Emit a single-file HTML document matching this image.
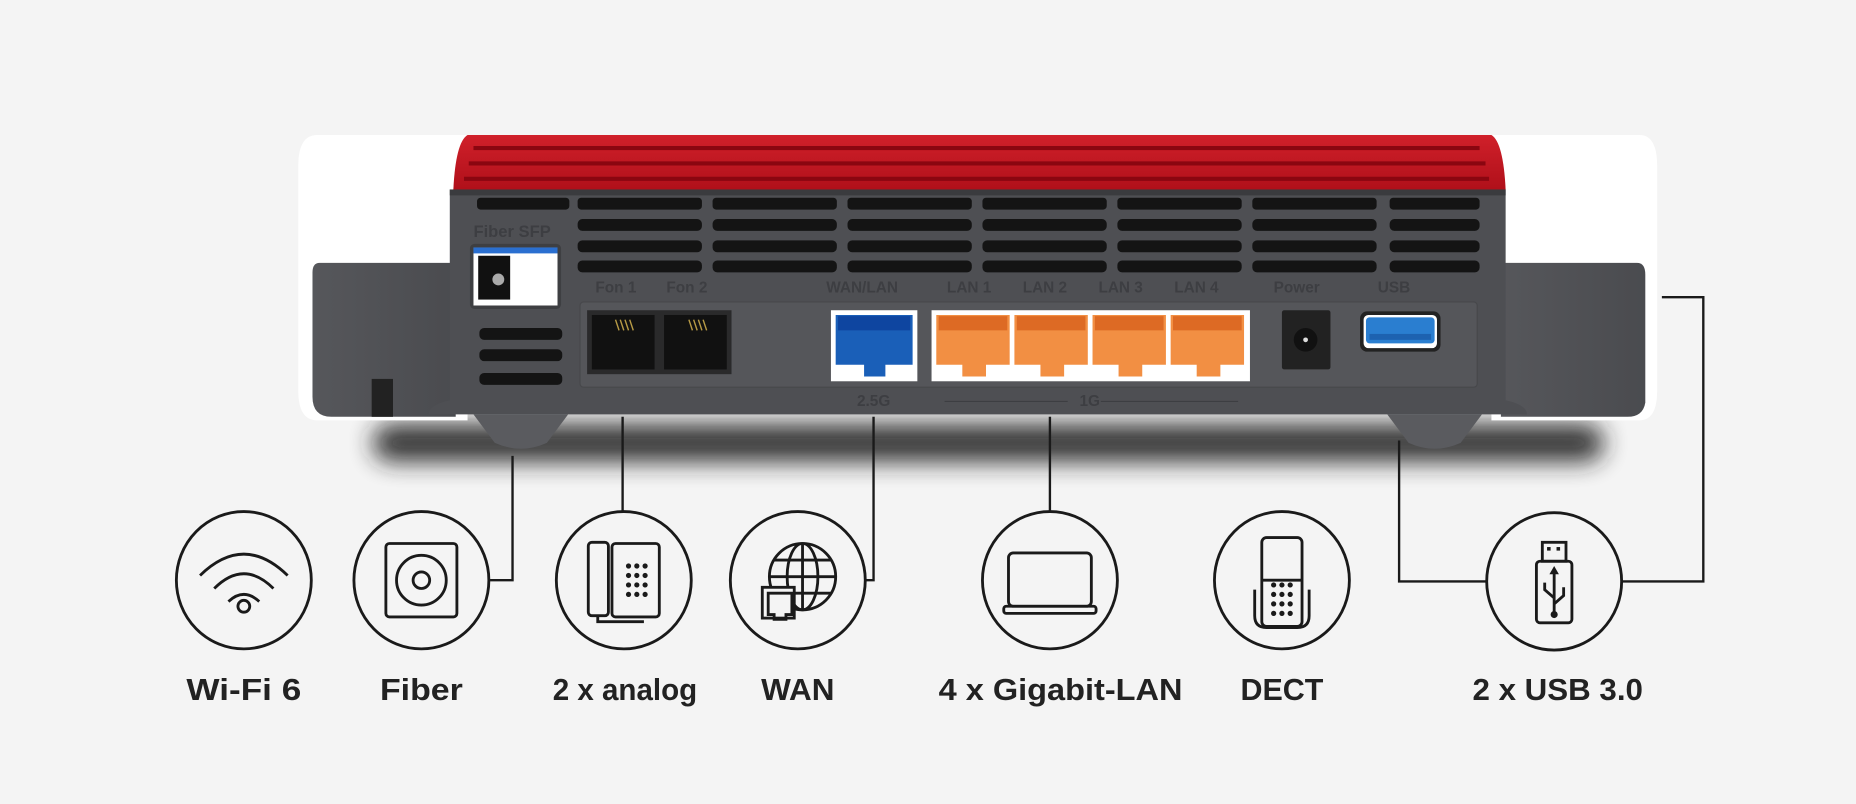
<!DOCTYPE html>
<html><head><meta charset="utf-8"><style>
html,body{margin:0;padding:0;background:#f4f4f4;width:1856px;height:804px;overflow:hidden}
svg{display:block}
text{font-family:"Liberation Sans",sans-serif;font-weight:bold}
</style></head><body>
<svg width="1856" height="804" viewBox="0 0 1568 679" preserveAspectRatio="none" xmlns="http://www.w3.org/2000/svg">
<defs>
<filter id="blur" x="-20%" y="-200%" width="140%" height="500%"><feGaussianBlur stdDeviation="10"/></filter>
<linearGradient id="red" x1="0" y1="0" x2="0" y2="1"><stop offset="0" stop-color="#d0202a"/><stop offset="1" stop-color="#b0101a"/></linearGradient>
<linearGradient id="side" x1="0" y1="0" x2="1" y2="0"><stop offset="0" stop-color="#56575b"/><stop offset="1" stop-color="#4a4b4f"/></linearGradient>
</defs>
<rect width="1568" height="679" fill="#f4f4f4"/>
<rect x="315" y="358" width="1040" height="32" rx="16" fill="#222" filter="url(#blur)" opacity="0.9"/>
<path d="M268 114 H395 V355 H268 Q252 355 252 330 V140 Q252 114 268 114Z" fill="#fff"/>
<path d="M1260 114 H1385 Q1400 114 1400 140 V330 Q1400 355 1385 355 H1260Z" fill="#fff"/>
<path d="M270 222 H385 V352 H280 Q264 352 264 335 V230 Q264 222 270 222Z" fill="url(#side)"/>
<path d="M1268 222 H1383 Q1390 222 1390 232 V340 Q1388 352 1375 352 H1268Z" fill="url(#side)"/>
<rect x="314" y="320" width="18" height="32" fill="#222"/>
<path d="M395 114 H1260 Q1270 120 1272 160 H383 Q385 120 395 114Z" fill="url(#red)"/>
<g stroke="#8a0610" stroke-width="3.5">
<line x1="400" y1="125" x2="1250" y2="125"/><line x1="396" y1="138" x2="1255" y2="138"/><line x1="392" y1="151" x2="1258" y2="151"/>
</g>
<path d="M380 160 H1272 V338 Q1290 342 1290 350 H362 Q362 342 380 338Z" fill="#4e4f53"/>
<rect x="380" y="160" width="892" height="5" fill="#3a3b3e"/>
<g fill="#141414">
<rect x="403" y="167" width="78" height="10" rx="3"/>
<rect x="405" y="277" width="70" height="10" rx="4"/><rect x="405" y="295" width="70" height="10" rx="4"/><rect x="405" y="315" width="70" height="10" rx="4"/>
</g>
<g fill="#141414" id="vc">
<rect x="488" y="167" width="105" height="10" rx="3"/><rect x="488" y="185" width="105" height="10" rx="4"/><rect x="488" y="203" width="105" height="10" rx="4"/><rect x="488" y="220" width="105" height="10" rx="4"/>
</g>
<use href="#vc" x="114"/><use href="#vc" x="228"/><use href="#vc" x="342"/><use href="#vc" x="456"/><use href="#vc" x="570"/>
<g fill="#141414"><rect x="1174" y="167" width="76" height="10" rx="3"/><rect x="1174" y="185" width="76" height="10" rx="4"/><rect x="1174" y="203" width="76" height="10" rx="4"/><rect x="1174" y="220" width="76" height="10" rx="4"/></g>
<g fill="#3d3e42" font-size="13" font-family="Liberation Sans,sans-serif">
<text x="400" y="200" font-size="14">Fiber SFP</text>
<text x="503" y="247">Fon 1</text><text x="563" y="247">Fon 2</text>
<text x="698" y="247">WAN/LAN</text><text x="800" y="247">LAN 1</text><text x="864" y="247">LAN 2</text><text x="928" y="247">LAN 3</text><text x="992" y="247">LAN 4</text>
<text x="1076" y="247">Power</text><text x="1164" y="247">USB</text>
<text x="724" y="343">2.5G</text><text x="912" y="343">1G</text>
</g>
<line x1="798" y1="339" x2="902" y2="339" stroke="#3d3e42" /><line x1="930" y1="339" x2="1046" y2="339" stroke="#3d3e42"/>
<rect x="397" y="206" width="77" height="55" rx="4" fill="#3e3f42"/>
<rect x="400" y="209" width="71" height="49" fill="#fff"/>
<rect x="400" y="209" width="71" height="5" fill="#2a6fd0"/>
<rect x="404" y="216" width="27" height="37" fill="#111"/>
<circle cx="421" cy="236" r="5" fill="#aaa"/>
<rect x="490" y="255" width="758" height="72" rx="3" fill="#55565a" stroke="#47484b"/>
<rect x="496" y="262" width="122" height="54" fill="#2a2a2b"/>
<rect x="500" y="266" width="53" height="46" fill="#111"/><rect x="561" y="266" width="53" height="46" fill="#111"/>
<g stroke="#b79a45" stroke-width="1.2"><path d="M520 270l3 9M524 270l3 9M528 270l3 9M532 270l3 9M582 270l3 9M586 270l3 9M590 270l3 9M594 270l3 9"/></g>
<rect x="702" y="262" width="73" height="60" fill="#fff"/>
<path d="M706 266 H771 V308 H748 V318 H730 V308 H706Z" fill="#1a5fb8"/>
<rect x="708" y="267" width="61" height="12" fill="#0e45a0"/>
<rect x="787" y="262" width="269" height="60" fill="#fff"/>
<g id="lp"><path d="M791 266 H853 V308 H833 V318 H813 V308 H791Z" fill="#f28f43"/><rect x="793" y="267" width="58" height="12" fill="#dd6a24"/></g>
<use href="#lp" x="66"/><use href="#lp" x="132"/><use href="#lp" x="198"/>
<rect x="1083" y="262" width="41" height="50" rx="2" fill="#222"/>
<circle cx="1103" cy="287" r="10" fill="#111"/><circle cx="1103" cy="287" r="2" fill="#ddd"/>
<rect x="1149" y="263" width="68" height="34" rx="6" fill="#222"/>
<rect x="1152" y="266" width="62" height="28" rx="4" fill="#fff"/>
<rect x="1154" y="268" width="58" height="22" rx="3" fill="#2a7ed0"/>
<rect x="1157" y="282" width="52" height="5" fill="#1d62b0"/>
<path d="M400 350 H480 L462 374 Q440 384 418 374Z" fill="#5a5b5f"/>
<path d="M1172 350 H1252 L1234 374 Q1212 384 1190 374Z" fill="#5a5b5f"/>
<g fill="none" stroke="#1a1a1a" stroke-width="2">
<path d="M433 385 V490 H414"/>
<path d="M526 352 V433"/>
<path d="M738 352 V490 H732"/>
<path d="M887 352 V433"/>
<path d="M1182 372 V491 H1256"/>
<path d="M1404 251 H1439 V491 H1371"/>
</g>
<g fill="none" stroke="#1a1a1a" stroke-width="2.4">
<ellipse cx="206" cy="490" rx="57" ry="58"/>
<ellipse cx="356" cy="490" rx="57" ry="58"/>
<ellipse cx="527" cy="490" rx="57" ry="58"/>
<ellipse cx="674" cy="490" rx="57" ry="58"/>
<ellipse cx="887" cy="490" rx="57" ry="58"/>
<ellipse cx="1083" cy="490" rx="57" ry="58"/>
<ellipse cx="1313" cy="491" rx="57" ry="58"/>
<path d="M169 486 Q206 450 243 486"/><path d="M181 497 Q206 472 231 497"/><path d="M193 508 Q206 496 219 508"/>
<circle cx="206" cy="512" r="5"/>
<rect x="326" y="459" width="60" height="62" rx="3"/><circle cx="356" cy="490" r="21"/><circle cx="356" cy="490" r="7"/>
<rect x="497" y="458" width="17" height="62" rx="3"/><rect x="517" y="459" width="40" height="62" rx="3"/>
<path d="M505 520 V525 H544"/>
<circle cx="678" cy="487" r="28"/><ellipse cx="678" cy="487" rx="13" ry="28"/><path d="M678 459 V515 M650 487 H706 M654 473 H702 M654 501 H702"/>
<rect x="644" y="496" width="27" height="26" fill="#f4f4f4"/>
<path d="M649 501 H669 V519 H664 V523 H654 V519 H649Z" fill="none"/>
<rect x="852" y="467" width="70" height="45" rx="4"/><rect x="848" y="512" width="78" height="6" rx="2"/>
<rect x="1066" y="454" width="34" height="75" rx="4"/><path d="M1066 490 H1100"/>
<path d="M1060 498 V520 Q1060 530 1070 530 H1096 Q1106 530 1106 520 V498"/>
<rect x="1303" y="458" width="20" height="16"/><rect x="1298" y="474" width="30" height="52" rx="3"/>
<path d="M1313 481 V518 M1313 505 L1305 498 V492 M1313 510 L1321 503 V496"/>
</g>
<g fill="#1a1a1a">
<g id="dots"><circle cx="531" cy="478" r="2.2"/><circle cx="538" cy="478" r="2.2"/><circle cx="545" cy="478" r="2.2"/>
<circle cx="531" cy="486" r="2.2"/><circle cx="538" cy="486" r="2.2"/><circle cx="545" cy="486" r="2.2"/>
<circle cx="531" cy="494" r="2.2"/><circle cx="538" cy="494" r="2.2"/><circle cx="545" cy="494" r="2.2"/>
<circle cx="531" cy="502" r="2.2"/><circle cx="538" cy="502" r="2.2"/><circle cx="545" cy="502" r="2.2"/></g>
<use href="#dots" x="545" y="16"/>
<rect x="1307" y="462" width="3" height="3"/><rect x="1315" y="462" width="3" height="3"/>
<circle cx="1313" cy="519" r="3"/><path d="M1313 478 l-4 7 h8z"/>
</g>
<g font-size="26" fill="#222" text-anchor="middle">
<text x="206" y="591" textLength="97" lengthAdjust="spacingAndGlyphs">Wi-Fi 6</text>
<text x="356" y="591" textLength="70" lengthAdjust="spacingAndGlyphs">Fiber</text>
<text x="528" y="591" textLength="122" lengthAdjust="spacingAndGlyphs">2 x analog</text>
<text x="674" y="591" textLength="62" lengthAdjust="spacingAndGlyphs">WAN</text>
<text x="896" y="591" textLength="206" lengthAdjust="spacingAndGlyphs">4 x Gigabit-LAN</text>
<text x="1083" y="591" textLength="70" lengthAdjust="spacingAndGlyphs">DECT</text>
<text x="1316" y="591" textLength="144" lengthAdjust="spacingAndGlyphs">2 x USB 3.0</text>
</g>
</svg>
</body></html>
